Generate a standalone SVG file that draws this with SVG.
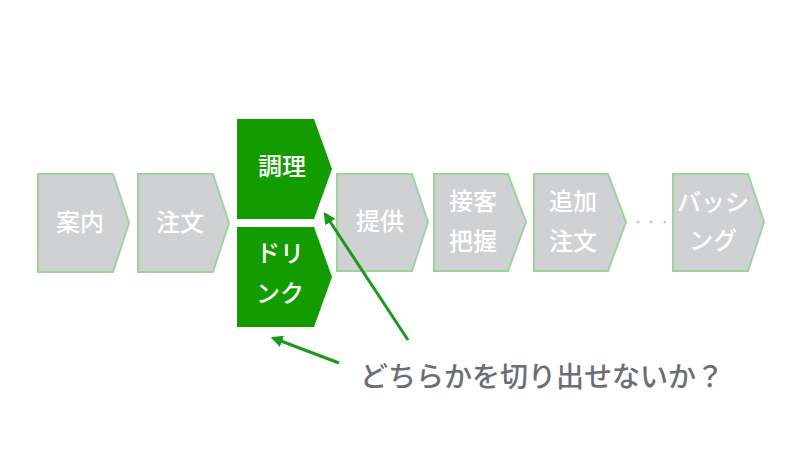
<svg xmlns="http://www.w3.org/2000/svg" width="800" height="450" viewBox="0 0 800 450">
<defs>
<style>
.g{fill:#D0D1D3;stroke:#9ED39E;stroke-width:2}
.a{fill:#139C00}
.t{fill:#fff;font-family:"Noto Sans CJK JP",sans-serif;font-size:24px;font-weight:500;text-anchor:middle}
.q{fill:#6B6E74;font-family:"Noto Sans CJK JP",sans-serif;font-size:28px;font-weight:500}
.c{stroke:#1A9A1A;stroke-width:3;fill:none}
</style>
<marker id="ah" viewBox="0 0 10 10" refX="8" refY="5" markerWidth="4" markerHeight="4" orient="auto">
<path d="M0,0L10,5L0,10z" fill="#1A9A1A"/>
</marker>
</defs>
<rect width="800" height="450" fill="#fff"/>
<g id="n1"><path class="g" d="M38,174H113L129,223L113,272H38z"/><text class="t" x="80" y="231">案内</text></g>
<g id="n2"><path class="g" d="M138,174H213L229,223L213,272H138z"/><text class="t" x="180" y="231">注文</text></g>
<g id="n3"><path class="a" d="M237,119H314L332,169L314,219H237z"/><text class="t" x="282" y="175">調理</text></g>
<g id="n4"><path class="a" d="M237,227H314L332,277L314,327H237z"/><text class="t" x="280" y="262">ドリ</text><text class="t" x="280" y="302">ンク</text></g>
<g id="n5"><path class="g" d="M337,174H412L428,222L412,271H337z"/><text class="t" x="380" y="230">提供</text></g>
<g id="n6"><path class="g" d="M434,174H508L526,222L508,271H434z"/><text class="t" x="473" y="210">接客</text><text class="t" x="473" y="250">把握</text></g>
<g id="n7"><path class="g" d="M534,174H608L626,222L608,271H534z"/><text class="t" x="573" y="210">追加</text><text class="t" x="573" y="250">注文</text></g>
<g id="n8"><path class="g" d="M673,174H748L764,222L748,271H673z"/><text class="t" x="713" y="211">バッシ</text><text class="t" x="713" y="249">ング</text></g>
<g id="dots" fill="#C8C9CB"><circle cx="638" cy="222" r="1.5"/><circle cx="651" cy="222" r="1.5"/><circle cx="665" cy="222" r="1.5"/></g>
<g id="connectors">
<line class="c" x1="408" y1="340" x2="325" y2="214" marker-end="url(#ah)"/>
<line class="c" x1="339" y1="363" x2="273" y2="338" marker-end="url(#ah)"/>
</g>
<text class="q" x="360" y="387">どちらかを切り出せないか？</text>
</svg>
